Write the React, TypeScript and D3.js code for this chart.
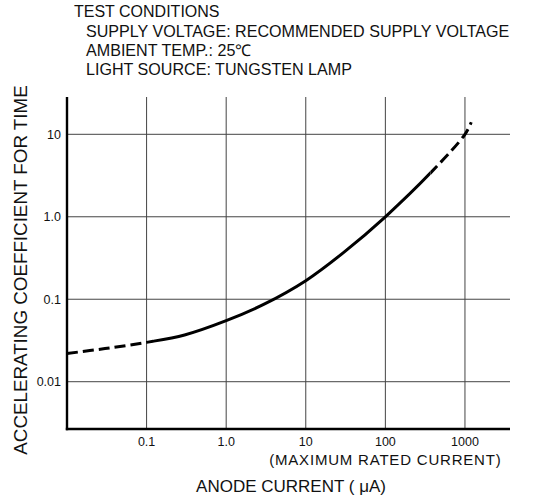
import * as d3 from "d3";

// anode current (uA) vs accelerating coefficient
const current = [0.01, 0.03, 0.1, 0.3, 1, 3, 10, 30, 100, 380, 1000, 1200];
const coefficient = [0.022, 0.0252, 0.03, 0.0369, 0.055, 0.0872, 0.168, 0.37, 1.0, 3.5, 10, 14];

// the printed curve is solid only between these currents, dashed outside
const solidFrom = 0.12;
const solidTo = 370;

const xTicks = [0.1, 1, 10, 100, 1000];
const xTickLabels = ["0.1", "1.0", "10", "100", "1000"];
const yTicks = [0.01, 0.1, 1, 10];
const yTickLabels = ["0.01", "0.1", "1.0", "10"];

const conditions = [
  "SUPPLY VOLTAGE: RECOMMENDED SUPPLY VOLTAGE",
  "AMBIENT TEMP.: 25\u2103",
  "LIGHT SOURCE: TUNGSTEN LAMP",
];

const width = 537;
const height = 500;
const left = 67;
const right = 510;
const top = 97;
const bottom = 429;
const font = "'Liberation Sans', Arial, Helvetica, sans-serif";

export default function App() {
  const x = d3.scaleLog().domain([0.01, 3680]).range([left, right]);
  const y = d3
    .scaleLog()
    .domain([Math.pow(10, -2.5735), Math.pow(10, 1.4523)])
    .range([bottom, top]);

  const points = current.map((c, i) => [c, coefficient[i]]);
  const line = d3
    .line()
    .x((d) => x(d[0]))
    .y((d) => y(d[1]))
    .curve(d3.curveCatmullRom.alpha(0.5));
  const curve = line(points);

  const xs0 = x(solidFrom);
  const xs1 = x(solidTo);

  return (
    <svg
      width={width}
      height={height}
      style={{ position: "absolute", left: 0, top: 0, background: "#fff" }}
      fontFamily={font}
    >
      <defs>
        <clipPath id="solid-part">
          <rect x={xs0} y={0} width={xs1 - xs0} height={height} />
        </clipPath>
        <clipPath id="dash-left">
          <rect x={0} y={0} width={xs0} height={height} />
        </clipPath>
        <clipPath id="dash-right">
          <rect x={xs1} y={0} width={width - xs1} height={height} />
        </clipPath>
      </defs>

      {/* test conditions */}
      <text x={74} y={17.3} fontSize={16} fill="#111">
        TEST CONDITIONS
      </text>
      {conditions.map((t, i) => (
        <text key={t} x={86} y={37 + i * 19} fontSize={16.1} fill="#111">
          {t}
        </text>
      ))}

      {/* grid */}
      <g stroke="#444" strokeWidth={1}>
        {xTicks.map((t) => (
          <line key={"gx" + t} x1={x(t)} x2={x(t)} y1={top} y2={bottom} />
        ))}
        {yTicks.map((t) => (
          <line key={"gy" + t} x1={left} x2={right} y1={y(t)} y2={y(t)} />
        ))}
      </g>

      {/* axes */}
      <line x1={left} x2={left} y1={top} y2={bottom + 1.2} stroke="#000" strokeWidth={2.4} />
      <line x1={left - 1.2} x2={right} y1={bottom} y2={bottom} stroke="#000" strokeWidth={2.4} />

      {/* tick labels */}
      {xTicks.map((t, i) => (
        <text key={"tx" + t} x={x(t)} y={446} fontSize={12.5} textAnchor="middle" fill="#111">
          {xTickLabels[i]}
        </text>
      ))}
      {yTicks.map((t, i) => (
        <text
          key={"ty" + t}
          x={61}
          y={y(t)}
          dy="0.35em"
          fontSize={12.5}
          textAnchor="end"
          fill="#111"
        >
          {yTickLabels[i]}
        </text>
      ))}

      {/* curve */}
      <g fill="none" stroke="#000" strokeWidth={3}>
        <path d={curve} clipPath="url(#solid-part)" />
        <path d={curve} clipPath="url(#dash-left)" strokeDasharray="11 5" />
        <path d={curve} clipPath="url(#dash-right)" strokeDasharray="11 5" />
      </g>

      {/* axis titles */}
      <text
        x={x(100)}
        y={465}
        fontSize={15}
        letterSpacing={0.8}
        textAnchor="middle"
        fill="#111"
      >
        (MAXIMUM RATED CURRENT)
      </text>
      <text x={291} y={492} fontSize={17} textAnchor="middle" fill="#111">
        ANODE CURRENT ( μA)
      </text>
      <text
        transform={`translate(27,270) rotate(-90)`}
        fontSize={18.8}
        textAnchor="middle"
        fill="#111"
      >
        ACCELERATING COEFFICIENT FOR TIME
      </text>
    </svg>
  );
}
